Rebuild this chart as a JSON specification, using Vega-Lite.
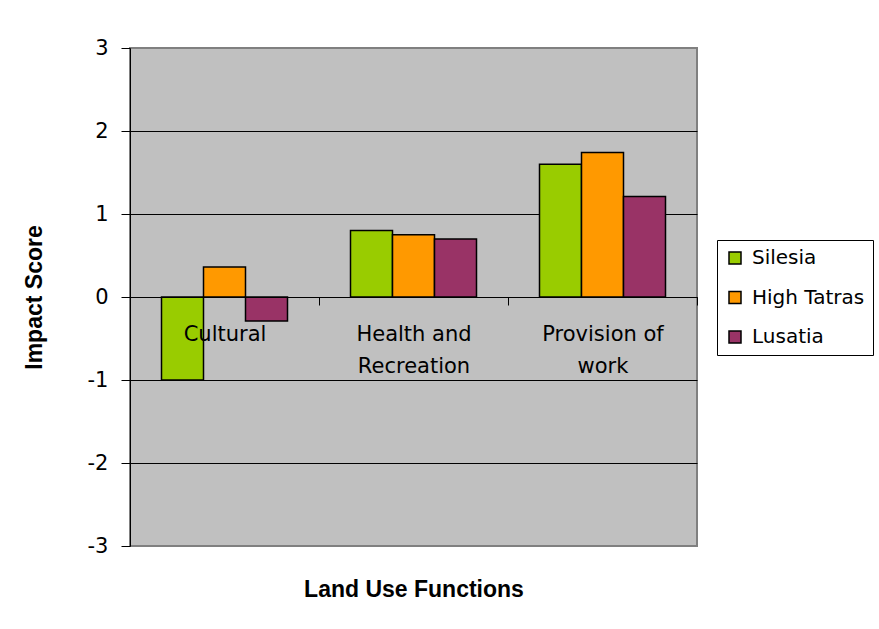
{
  "$schema": "https://vega.github.io/schema/vega-lite/v6.json",
  "width": 567,
  "height": 498,
  "autosize": {"type": "none"},
  "padding": {"left": 130, "top": 48, "right": 182, "bottom": 83},
  "background": "white",
  "config": {
    "font": "DejaVu Sans",
    "view": {"fill": "#C0C0C0", "stroke": "#808080", "strokeWidth": 2}
  },
  "data": {
    "values": [
      {"function": "Cultural", "region": "Silesia", "score": -1},
      {"function": "Cultural", "region": "High Tatras", "score": 0.36},
      {"function": "Cultural", "region": "Lusatia", "score": -0.29},
      {"function": "Health and Recreation", "region": "Silesia", "score": 0.8},
      {"function": "Health and Recreation", "region": "High Tatras", "score": 0.75},
      {"function": "Health and Recreation", "region": "Lusatia", "score": 0.7},
      {"function": "Provision of work", "region": "Silesia", "score": 1.6},
      {"function": "Provision of work", "region": "High Tatras", "score": 1.74},
      {"function": "Provision of work", "region": "Lusatia", "score": 1.21}
    ]
  },
  "mark": {"type": "bar", "stroke": "#000", "strokeWidth": 1.5},
  "encoding": {
    "x": {
      "field": "function",
      "type": "nominal",
      "sort": ["Cultural", "Health and Recreation", "Provision of work"],
      "scale": {"paddingInner": 0, "paddingOuter": 0},
      "axis": {
        "orient": "bottom",
        "offset": -249,
        "zindex": 1,
        "title": "Land Use Functions",
        "titleFont": "Liberation Sans",
        "titleFontSize": 23,
        "titleFontWeight": "bold",
        "titleColor": "#000",
        "titleX": 283.5,
        "titleY": 292,
        "titleAlign": "center",
        "titleBaseline": "middle",
        "labelAngle": 0,
        "labelFont": "DejaVu Sans",
        "labelFontSize": 21,
        "labelColor": "#000",
        "labelPadding": 18,
        "labelLineHeight": 32,
        "labelBaseline": "top",
        "labelExpr": "datum.value == 'Health and Recreation' ? ['Health and', 'Recreation'] : datum.value == 'Provision of work' ? ['Provision of', 'work'] : datum.value",
        "tickBand": "extent",
        "tickSize": 8,
        "tickColor": "#000",
        "domainColor": "#000",
        "grid": false
      }
    },
    "xOffset": {
      "field": "region",
      "type": "nominal",
      "sort": ["Silesia", "High Tatras", "Lusatia"],
      "scale": {"paddingInner": 0, "paddingOuter": 0.75}
    },
    "y": {
      "field": "score",
      "type": "quantitative",
      "scale": {"domain": [-3, 3], "nice": false},
      "axis": {
        "values": [-3, -2, -1, 0, 1, 2, 3],
        "labelExpr": "datum.value + ''",
        "title": "Impact Score",
        "titleFont": "Liberation Sans",
        "titleFontSize": 23,
        "titleFontWeight": "bold",
        "titleColor": "#000",
        "titleAngle": 270,
        "titleX": -96,
        "titleY": 249,
        "titleAlign": "center",
        "titleBaseline": "middle",
        "labelFont": "DejaVu Sans",
        "labelFontSize": 21,
        "labelColor": "#000",
        "labelPadding": 13,
        "tickSize": 9,
        "tickColor": "#000",
        "domainColor": "#000",
        "grid": true,
        "gridColor": {"condition": {"test": "abs(datum.value) == 3", "value": "#808080"}, "value": "#000"},
        "gridOpacity": 1
      }
    },
    "color": {
      "field": "region",
      "type": "nominal",
      "scale": {"domain": ["Silesia", "High Tatras", "Lusatia"], "range": ["#99CC00", "#FF9900", "#993366"]},
      "legend": {
        "title": null,
        "orient": "none",
        "legendX": 587,
        "legendY": 192,
        "strokeColor": "#000",
        "fillColor": "#fff",
        "padding": 8,
        "symbolType": "square",
        "symbolSize": 144,
        "symbolStrokeColor": "#000",
        "symbolStrokeWidth": 1.5,
        "symbolOpacity": 1,
        "labelFont": "DejaVu Sans",
        "labelFontSize": 20,
        "labelColor": "#000",
        "labelOffset": 7,
        "rowPadding": 19.5
      }
    }
  }
}
